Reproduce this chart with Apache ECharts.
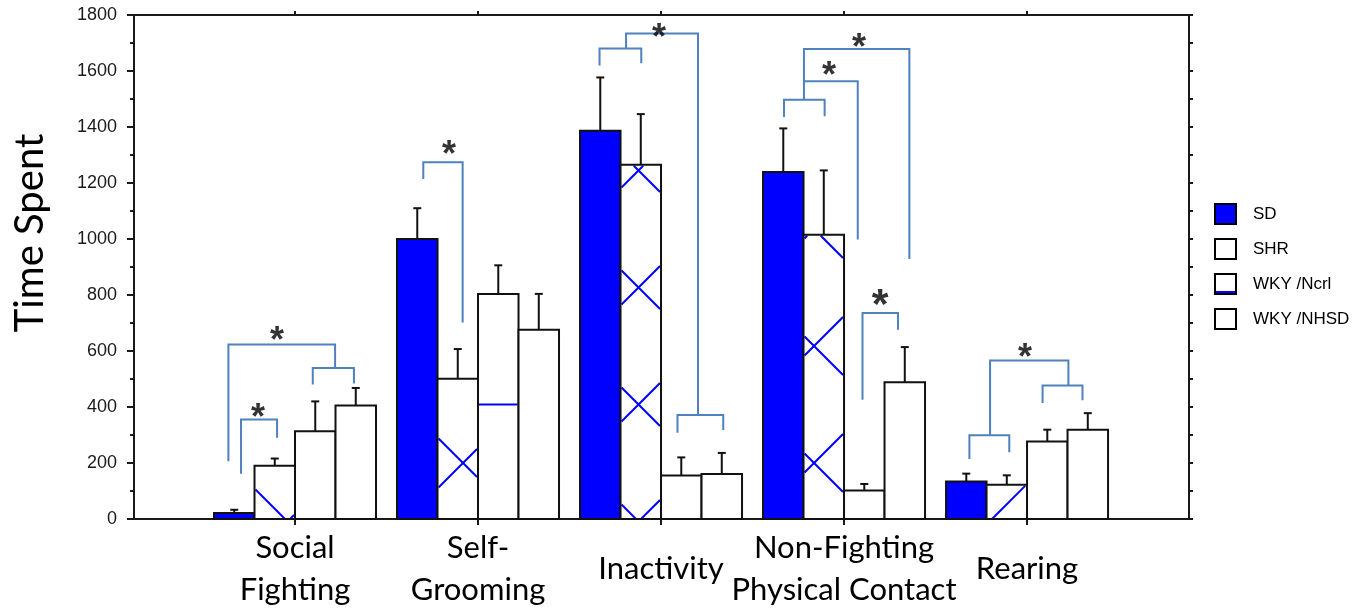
<!DOCTYPE html>
<html><head><meta charset="utf-8">
<script src="https://cdn.jsdelivr.net/npm/echarts@6/dist/echarts.min.js"></script>
<style>html,body{margin:0;padding:0;background:#fff}#c{width:1372px;height:608px}</style>
</head><body><div id="c"></div>
<script>
// ---------------- data ----------------
const categories = ['Social\nFighting', 'Self-\nGrooming', 'Inactivity', 'Non-Fighting\nPhysical Contact', 'Rearing'];
const seriesNames = ['SD', 'SHR', 'WKY /Ncrl', 'WKY /NHSD'];
const sdMean      = [21, 1000, 1387, 1239, 134];
const sdErr       = [12, 110, 190, 156, 28];
const shrMean     = [190, 501, 1265, 1015, 122];
const shrErr      = [26, 106, 181, 230, 34];
const wkyNcrlMean = [313, 804, 155, 102, 277];
const wkyNcrlErr  = [107, 102, 65, 23, 42];
const wkyNhsdMean = [405, 676, 161, 488, 319];
const wkyNhsdErr  = [63, 128, 75, 126, 59];
const yTickValues = [0, 200, 400, 600, 800, 1000, 1200, 1400, 1600, 1800];
const categoryPositions = [1, 2, 3, 4, 5];

// significance brackets (polylines in data units: [category position, value])
const bracketPaths = [
  [[0.705, 162], [0.705, 355], [0.902, 355], [0.902, 290]],
  [[1.097, 480], [1.097, 539], [1.322, 539], [1.322, 484]],
  [[0.636, 206], [0.636, 623], [1.219, 623], [1.219, 539]],
  [[1.701, 1214], [1.701, 1274], [1.916, 1274], [1.916, 702]],
  [[2.664, 1620], [2.664, 1680], [2.892, 1680], [2.892, 1628]],
  [[3.090, 308], [3.090, 371], [3.340, 371], [3.340, 318]],
  [[2.809, 1680], [2.809, 1734], [3.202, 1734], [3.202, 371]],
  [[3.672, 1436], [3.672, 1497], [3.894, 1497], [3.894, 1438]],
  [[3.781, 1497], [3.781, 1563], [4.075, 1563], [4.075, 998]],
  [[3.781, 1563], [3.781, 1679], [4.357, 1679], [4.357, 929]],
  [[4.101, 426], [4.101, 736], [4.295, 736], [4.295, 676]],
  [[4.685, 214], [4.685, 299], [4.903, 299], [4.903, 238]],
  [[5.085, 414], [5.085, 477], [5.303, 477], [5.303, 424]],
  [[4.798, 299], [4.798, 566], [5.226, 566], [5.226, 477]]
];
// asterisks: [category position, value, relative size]
const starMarks = [
  [0.902, 665, 1], [0.798, 390, 1], [1.842, 1330, 1], [2.989, 1745, 1],
  [3.918, 1611, 1], [4.082, 1712, 1], [4.197, 801, 1.2], [4.989, 605, 1]
];

// ---------------- styling ----------------
const BAR_W = 40.5 / 183;        // bar width in category units
const P = 117, D0 = 0, S0 = 107, H0 = 53.5;   // hatch lattice (pixels)
const BLUE = '#0000ff';
const BRACKET = '#4f81bd';

function hatchLines(kind, x0, x1, yT, yB) {
  const out = [];
  if (kind === 'x') {
    for (let d = Math.floor((x0 - yB - D0) / P) * P + D0; d <= x1 - yT; d += P) {
      const xs = Math.max(x0, yT + d), xe = Math.min(x1, yB + d);
      if (xe > xs) out.push([xs, xs - d, xe, xe - d]);
    }
    for (let s = Math.floor((x0 + yT - S0) / P) * P + S0; s <= x1 + yB; s += P) {
      const xs = Math.max(x0, s - yB), xe = Math.min(x1, s - yT);
      if (xe > xs) out.push([xs, s - xs, xe, s - xe]);
    }
  } else if (kind === 'h') {
    for (let y = Math.floor((yT - H0) / P) * P + H0; y <= yB; y += P) {
      if (y > yT + 1 && y < yB - 1) out.push([x0, y, x1, y]);
    }
  }
  return out;
}

function makeBarRender(si, fill, hatch) {
  return function (params, api) {
    const c = api.value(0), v = api.value(1), e = api.value(2);
    const off = (si - 1.5) * BAR_W;
    const pTop = api.coord([c + off, v]);
    const pBase = api.coord([c + off, 0]);
    const pErr = api.coord([c + off, v + e]);
    const w = api.size([BAR_W, 0])[0];
    const x0 = pTop[0] - w / 2, x1 = pTop[0] + w / 2, yT = pTop[1], yB = pBase[1];
    const ch = [];
    ch.push({ type: 'rect', shape: { x: x0, y: yT, width: w, height: yB - yT }, style: { fill: fill } });
    hatchLines(hatch, x0 + 1, x1 - 1, yT + 1, yB).forEach(l => ch.push({
      type: 'line', shape: { x1: l[0], y1: l[1], x2: l[2], y2: l[3] }, style: { stroke: BLUE, lineWidth: 2 }
    }));
    ch.push({ type: 'rect', shape: { x: x0, y: yT, width: w, height: yB - yT }, style: { fill: null, stroke: '#111', lineWidth: 2 } });
    ch.push({ type: 'line', shape: { x1: pTop[0], y1: yT, x2: pTop[0], y2: pErr[1] }, style: { stroke: '#111', lineWidth: 2 } });
    ch.push({ type: 'line', shape: { x1: pTop[0] - 4, y1: pErr[1], x2: pTop[0] + 4, y2: pErr[1] }, style: { stroke: '#111', lineWidth: 2 } });
    return { type: 'group', children: ch };
  };
}

function barData(means, errs) {
  return means.map((m, i) => [categoryPositions[i], m, errs[i]]);
}

const barDefs = [
  { name: seriesNames[0], mean: sdMean, err: sdErr, fill: BLUE, hatch: null },
  { name: seriesNames[1], mean: shrMean, err: shrErr, fill: '#fff', hatch: 'x' },
  { name: seriesNames[2], mean: wkyNcrlMean, err: wkyNcrlErr, fill: '#fff', hatch: 'h' },
  { name: seriesNames[3], mean: wkyNhsdMean, err: wkyNhsdErr, fill: '#fff', hatch: null }
];

const series = barDefs.map((b, si) => ({
  type: 'custom', name: b.name, xAxisIndex: 0, yAxisIndex: 0,
  renderItem: makeBarRender(si, b.fill, b.hatch),
  itemStyle: { color: b.fill, borderColor: '#000', borderWidth: 2 },
  encode: { x: 0, y: 1 },
  data: barData(b.mean, b.err),
  clip: false, silent: true, z: 2
}));

series.push({
  type: 'lines', coordinateSystem: 'cartesian2d', polyline: true, xAxisIndex: 0, yAxisIndex: 0,
  lineStyle: { color: BRACKET, width: 2, opacity: 1 },
  data: bracketPaths.map(p => ({ coords: p })), silent: true, z: 3
});

series.push({
  type: 'scatter', xAxisIndex: 0, yAxisIndex: 0, symbol: 'circle', symbolSize: 1,
  itemStyle: { color: 'rgba(0,0,0,0)' }, silent: true, z: 4,
  data: starMarks.map(s => ({
    value: [s[0], s[1]],
    label: { fontSize: Math.round(36 * s[2]), offset: [0, Math.round(9 * s[2])] }
  })),
  label: { show: true, position: 'inside', formatter: '*', color: '#000', fontWeight: 'bold',
    fontFamily: 'Liberation Sans', fontSize: 36 }
});

const axisLineStyle = { color: '#1a1a1a', width: 2 };

const option = {
  animation: false,
  backgroundColor: '#fff',
  grid: { left: 134, right: 183, top: 15, bottom: 89, containLabel: false, outerBoundsMode: 'none' },
  legend: {
    orient: 'vertical', left: 1214, top: 203, itemWidth: 21, itemHeight: 20, itemGap: 13, padding: 0,
    selectedMode: false,
    textStyle: { fontFamily: 'Liberation Sans', fontSize: 17, color: '#000', padding: [0, 0, 0, 12] },
    data: [
      { name: seriesNames[0], icon: 'rect', itemStyle: { color: BLUE, borderColor: '#000', borderWidth: 2 } },
      { name: seriesNames[1], icon: 'rect', itemStyle: { color: '#fff', borderColor: '#000', borderWidth: 2 } },
      { name: seriesNames[2], icon: 'rect', itemStyle: { borderColor: '#000', borderWidth: 2,
        color: { type: 'linear', x: 0, y: 0, x2: 0, y2: 1, colorStops: [
          { offset: 0, color: '#fff' }, { offset: 0.8, color: '#fff' }, { offset: 0.8, color: BLUE },
          { offset: 0.9, color: BLUE }, { offset: 0.9, color: '#fff' }, { offset: 1, color: '#fff' }] } } },
      { name: seriesNames[3], icon: 'rect', itemStyle: { color: '#fff', borderColor: '#000', borderWidth: 2 } }
    ]
  },
  xAxis: [
    {
      type: 'value', position: 'bottom', min: 0.1202, max: 5.885,
      axisLine: { show: true, onZero: false, lineStyle: axisLineStyle },
      axisTick: { show: true, length: 6, customValues: categoryPositions, lineStyle: { color: '#1a1a1a', width: 2 } },
      axisLabel: { show: true, customValues: categoryPositions, formatter: v => categories[Math.round(v) - 1],
        fontFamily: 'Lato', fontSize: 31, lineHeight: 42, color: '#000', margin: 50, verticalAlign: 'middle' },
      splitLine: { show: false }
    },
    {
      type: 'value', position: 'top', min: 0.1202, max: 5.885,
      axisLine: { show: true, onZero: false, lineStyle: axisLineStyle },
      axisTick: { show: true, length: 4, customValues: categoryPositions, lineStyle: { color: '#1a1a1a', width: 2 } },
      axisLabel: { show: false },
      splitLine: { show: false }
    }
  ],
  yAxis: [
    {
      type: 'value', position: 'left', min: 0, max: 1800, interval: 200,
      name: 'Time Spent', nameLocation: 'middle', nameRotate: 90, nameGap: 84,
      nameTextStyle: { fontFamily: 'Lato', fontSize: 40, color: '#000', padding: [0, 0, 0, 68] },
      axisLine: { show: true, lineStyle: axisLineStyle },
      axisTick: { show: true, length: 7, lineStyle: { color: '#1a1a1a', width: 2 } },
      minorTick: { show: true, splitNumber: 2, length: 4, lineStyle: { color: '#1a1a1a', width: 2 } },
      axisLabel: { show: true, customValues: yTickValues, formatter: v => String(v),
        fontFamily: 'Liberation Sans', fontSize: 18, color: '#1a1a1a', margin: 17 },
      splitLine: { show: false }
    },
    {
      type: 'value', position: 'right', min: 0, max: 1800, interval: 200,
      axisLine: { show: true, lineStyle: axisLineStyle },
      axisTick: { show: true, length: 4, lineStyle: { color: '#1a1a1a', width: 2 } },
      minorTick: { show: true, splitNumber: 2, length: 4, lineStyle: { color: '#1a1a1a', width: 2 } },
      axisLabel: { show: false },
      splitLine: { show: false }
    }
  ],
  series: series
};

const chart = echarts.init(document.getElementById('c'), null, { renderer: 'canvas' });
chart.setOption(option);
</script>
</body></html>
